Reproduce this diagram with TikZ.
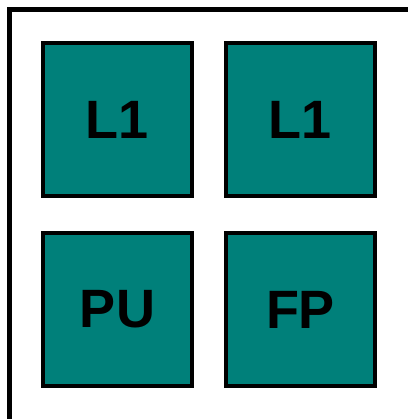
\documentclass[tikz,border=0pt]{standalone}
\usepackage{fontspec}
\setmainfont{Liberation Sans}
\usepackage{tikz}
\usetikzlibrary{positioning}
\definecolor{verdeazul}{RGB}{0,128,122}
\tikzstyle{cajanucleo} = [rectangle, minimum width=149pt, minimum height=153pt, inner sep=0pt, text centered, draw=black, line width=4pt, fill=verdeazul, font=\fontsize{54}{60}\selectfont\bfseries]
\tikzstyle{marco} = [draw=black, line width=5pt]

\begin{document}
\begin{tikzpicture}[x=1pt, y=1pt]
	\useasboundingbox (0,0) rectangle (407,419);
	% Chip
	\draw[marco] (9.5,409.5) rectangle (410,-2.5);
	% Bloques
	\node (cacheA) [cajanucleo] at (117.5,299.5) {L1};
	\node (cacheB) [cajanucleo, right=30pt of cacheA] {L1};
	\node (unidad) [cajanucleo, below=33pt of cacheA] {PU};
	\node (flotante) [cajanucleo, below=33pt of cacheB] {FP};
\end{tikzpicture}
\end{document}
